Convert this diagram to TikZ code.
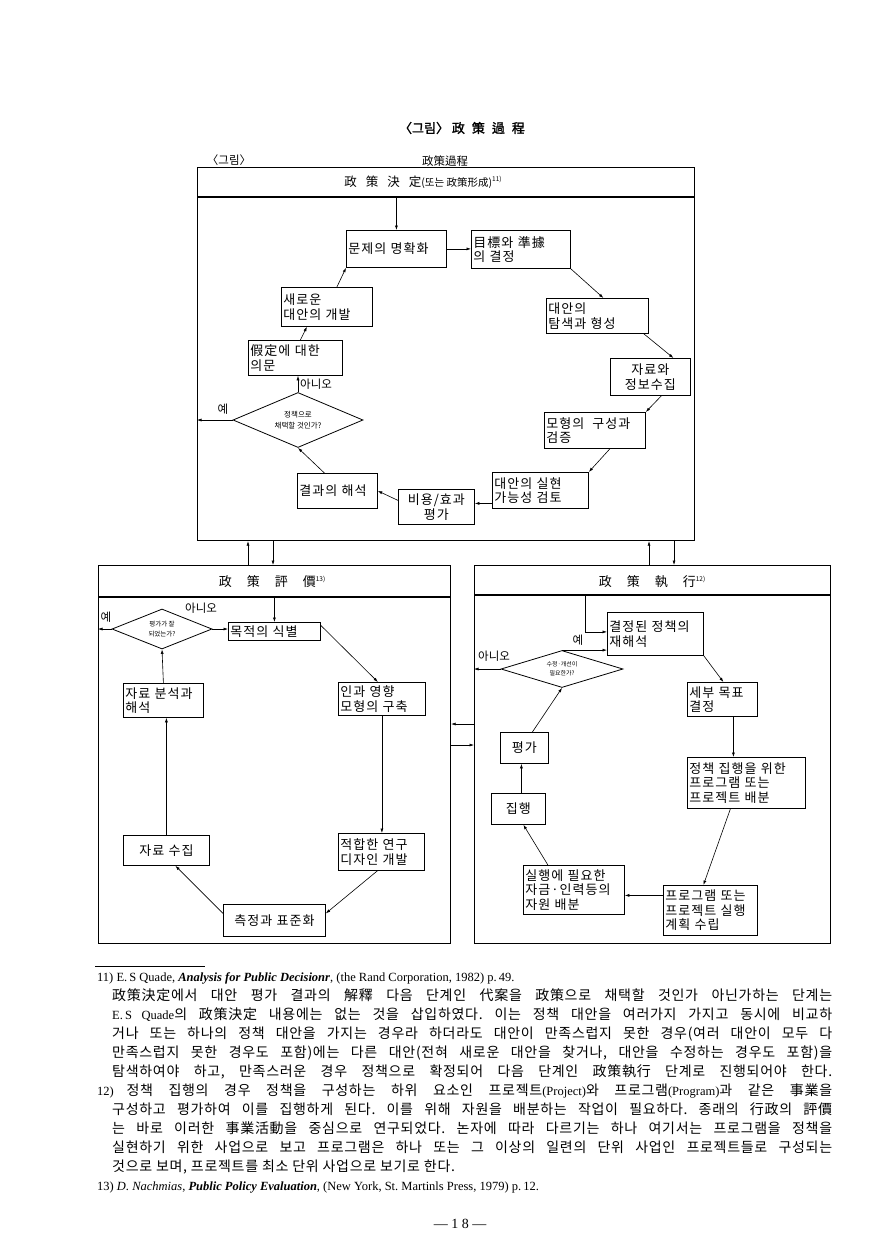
\documentclass[tikz,border=0pt]{standalone}
\usepackage{fontspec}
\setmainfont{Liberation Serif}
\newfontfamily\kr{Noto Sans CJK KR}
\newfontfamily\krs{Noto Sans CJK KR}[LetterSpace=8]
\newfontfamily\krn{Noto Sans CJK KR}[LetterSpace=5]
\newfontfamily\krb{Noto Sans CJK KR}[FakeBold=1.5]
\newcommand\krf{\krn\fontsize{14}{16}\selectfont}
\usetikzlibrary{arrows.meta,shapes.geometric}
\tikzset{
  bx/.style={draw, line width=0.8pt, anchor=north west, inner sep=2pt, align=left, font=\krs\fontsize{13}{14.5}\selectfont},
  frm/.style={draw, line width=1.1pt, anchor=north west, inner sep=0pt},
  divl/.style={line width=1.1pt},
  arr/.style={-{Latex[length=4.5pt,width=3pt]}, line width=0.6pt},
  dia/.style={diamond, draw, line width=0.8pt, inner sep=0pt, align=center, font=\kr\fontsize{7.5}{11}\selectfont},
  lab/.style={inner sep=0pt, font=\kr\fontsize{11.5}{13}\selectfont},
  hd/.style={inner sep=0pt, font=\kr\fontsize{13}{15}\selectfont},
  fn/.style={inner sep=0pt, anchor=base west, font=\fontsize{12.5}{15}\selectfont},
}
\newcommand\sups[1]{\raisebox{5pt}{\fontsize{6.5}{7}\selectfont #1}}
\begin{document}
\frenchspacing
\begin{tikzpicture}[x=1pt,y=-1pt]
\useasboundingbox[fill=white] (0,0) rectangle (869,1258);

% titles
\node[inner sep=0pt, font=\krb\fontsize{13}{15}\selectfont] (title) at (462,128) {〈그림〉 政\hspace{7pt}策\hspace{7pt}過\hspace{7pt}程};
\node[lab] (sub1) at (229,160) {〈그림〉};
\node[lab] (sub2) at (445,161) {政策過程};

% ---------------- frames
\node[frm, minimum width=497pt, minimum height=373pt] (T) at (197,167) {};
\coordinate (Td) at (197,197);
\draw[divl] (Td) -- (Td -| T.east);
\node[inner sep=0pt, font=\kr\fontsize{12.5}{14}\selectfont] (Th) at (423,182) {政\hspace{9pt}策\hspace{9pt}決\hspace{9pt}定{\fontsize{10.5}{12}\selectfont(또는 政策形成)}\sups{11)}};

\node[frm, minimum width=352pt, minimum height=378pt] (L) at (98,565) {};
\coordinate (Ld) at (98,597);
\draw[divl] (Ld) -- (Ld -| L.east);
\node[hd] (Lh) at (272,582) {政\hspace{15pt}策\hspace{15pt}評\hspace{15pt}價\sups{13)}};

\node[frm, minimum width=356pt, minimum height=378pt] (R) at (474,565) {};
\coordinate (Rd) at (474,595);
\draw[divl] (Rd) -- (Rd -| R.east);
\node[hd] (Rh) at (652,582) {政\hspace{15pt}策\hspace{15pt}執\hspace{15pt}行\sups{12)}};

% frame connectors
\draw[arr] ([xshift=150pt]L.north west) -- ([xshift=51pt]T.south west);
\draw[arr] ([xshift=76pt]T.south west) -- ([xshift=175pt]L.north west);
\draw[arr] ([xshift=175pt]R.north west) -- ([xshift=452pt]T.south west);
\draw[arr] ([xshift=477pt]T.south west) -- ([xshift=200pt]R.north west);
\draw[arr] ([yshift=-159pt]R.north west) -- ([yshift=-159pt]L.north east);
\draw[arr] ([yshift=-180pt]L.north east) -- ([yshift=-180pt]R.north west);

% ---------------- top: policy decision
\node[bx, text width=96pt, minimum height=37pt] (t1) at (346,230) {문제의 명확화};
\node[bx, text width=95pt, minimum height=38pt] (t2) at (471,230) {目標와 準據\\의 결정};
\node[bx, text width=98pt, minimum height=35pt] (t3) at (546,298) {대안의\\탐색과 형성};
\node[bx, text width=76pt, minimum height=37pt, align=center] (t4) at (610,358) {자료와\\정보수집};
\node[bx, text width=97pt, minimum height=36pt] (t5) at (544,412) {모형의\hspace{8pt}구성과\\검증};
\node[bx, text width=92pt, minimum height=36pt] (t6) at (492,472) {대안의 실현\\가능성 검토};
\node[bx, text width=72pt, minimum height=35pt, align=center] (t7) at (398,489) {비용/효과\\평가};
\node[bx, text width=76pt, minimum height=35pt] (t8) at (297,473) {결과의 해석};
\node[bx, text width=90pt, minimum height=35pt] (t9) at (248,340) {假定에 대한\\의문};
\node[bx, text width=87pt, minimum height=39pt] (t10) at (281,287) {새로운\\대안의 개발};
\node[dia, minimum width=130pt, minimum height=55pt, aspect=2.4] (td) at (298,420) {정책으로\\채택할 것인가?};

\draw[arr] (t1.north |- Td) -- (t1.north);
\draw[arr] (t1.east) -- (t2.west |- t1.east);
\draw[arr] (t2.south east) -- ([xshift=6pt]t3.north);
\draw[arr] ([xshift=-5pt]t3.south east) -- ([xshift=23pt]t4.north);
\draw[arr] ([xshift=11pt]t4.south) -- (t5.north east);
\draw[arr] ([xshift=15pt]t5.south) -- (t6.north east);
\coordinate (p7) at ([yshift=-13pt]t6.west);
\draw[arr] (p7) -- (p7 -| t7.east);
\draw[arr] ([yshift=6.5pt]t7.west) -- (t8.east);
\draw[arr] ([xshift=-13pt]t8.north) -- (td.south);
\draw[arr] (td.north) -- (td.north |- t9.south);
\draw[arr] ([xshift=5pt]t9.north) -- ([xshift=-20pt]t10.south);
\draw[arr] ([xshift=10pt]t10.north) -- (t1.south west);
\draw[arr] (td.west) -- (td.west -| T.west);
\node[lab, anchor=west] (tno) at (300,384) {아니오};
\node[lab] (tyes) at (223,409) {예};

% ---------------- left: policy evaluation
\node[bx, text width=88pt, minimum height=18pt] (l1) at (228,622) {목적의 식별};
\node[bx, text width=83pt, minimum height=33pt] (l2) at (338,682) {인과 영향\\모형의 구축};
\node[bx, text width=82pt, minimum height=37pt] (l3) at (338,833) {적합한 연구\\디자인 개발};
\node[bx, text width=98pt, minimum height=32pt, align=center] (l4) at (223,904) {측정과 표준화};
\node[bx, text width=82pt, minimum height=30pt, align=center] (l5) at (123,835) {자료 수집};
\node[bx, text width=76pt, minimum height=34pt] (l6) at (123,683) {자료 분석과\\해석};
\node[dia, minimum width=100pt, minimum height=40pt, aspect=2.5, font=\kr\fontsize{6.5}{10}\selectfont] (ld) at (162,629) {평가가 잘\\되었는가?};

\draw[arr] (l1.north |- Ld) -- (l1.north);
\draw[arr] (ld.east) -- (l1.west |- ld.east);
\draw[arr] (ld.west) -- (ld.west -| L.west);
\draw[arr] ([yshift=6pt]l1.east) -- ([xshift=-4pt]l2.north);
\draw[arr] (l2.south) -- (l2.south |- l3.north);
\draw[arr] ([xshift=-4pt]l3.south) -- ([yshift=7pt]l4.east);
\draw[arr] ([yshift=7pt]l4.west) -- ([xshift=9pt]l5.south);
\draw[arr] (l5.north) -- (l5.north |- l6.south);
\draw[arr] (l6.north) -- (ld.south);
\node[lab, anchor=west] (lno) at (185,608) {아니오};
\node[lab] (lyes) at (106,617) {예};

% ---------------- right: policy implementation
\node[bx, text width=92pt, minimum height=43pt] (r1) at (607,612) {결정된 정책의\\재해석};
\node[bx, text width=66pt, minimum height=34pt] (r2) at (687,682) {세부 목표\\결정};
\node[bx, text width=114pt, minimum height=51pt] (r3) at (687,757) {정책 집행을 위한\\프로그램 또는\\프로젝트 배분};
\node[bx, text width=90pt, minimum height=50pt] (r4) at (663,885) {프로그램 또는\\프로젝트 실행\\계획 수립};
\node[bx, text width=97pt, minimum height=49pt] (r5) at (523,865) {실행에 필요한\\자금·인력등의\\자원 배분};
\node[bx, text width=50pt, minimum height=31pt, align=center] (r6) at (491,793) {집행};
\node[bx, text width=44pt, minimum height=31pt, align=center] (r7) at (500,732) {평가};
\node[dia, minimum width=122pt, minimum height=37pt, aspect=3.2, font=\kr\fontsize{6}{9}\selectfont] (rd) at (562,669) {수정·개선이\\필요한가?};

\coordinate (rj) at ([xshift=-22pt]r1.west);
\draw[arr] (rj |- Rd) |- ([yshift=2pt]r1.west);
\draw[arr] (rd.north) -- (rd.north -| r1.west);
\draw[arr] (rd.west) -- (rd.west -| R.west);
\draw[arr] (r1.south east) -- ([xshift=1pt]r2.north);
\draw[arr] ([xshift=11pt]r2.south) -- ([xshift=-13pt]r3.north);
\draw[arr] ([xshift=-16pt]r3.south) -- ([xshift=-7pt]r4.north);
\coordinate (p1) at ([yshift=15pt]r4.west);
\draw[arr] (p1) -- (p1 -| r5.east);
\draw[arr] ([xshift=-26pt]r5.north) -- ([xshift=5pt]r6.south);
\draw[arr] ([xshift=3pt]r6.north) -- ([xshift=-3pt]r7.south);
\draw[arr] ([xshift=8pt]r7.north) -- (rd.south);
\node[lab] (ryes) at (578,640) {예};
\node[lab, anchor=west] (rno) at (478,656) {아니오};

% ---------------- footnotes
\draw[line width=0.8pt] (95,966) -- (205,966);
\node[fn] (f1) at (97,981) {11) E.\,S Quade, \textbf{\textit{Analysis for Public Decisionr}}, (the Rand Corporation, 1982) p.\,49.};
\node[fn] (f2) at (112,1000) {\makebox[720pt][s]{\krf 政策決定에서 대안 평가 결과의 解釋 다음 단계인 代案을 政策으로 채택할 것인가 아닌가하는 단계는}};
\node[fn] (f3) at (112,1019) {\makebox[720pt][s]{E.\,S Quade{\krf 의 政策決定 내용에는 없는 것을 삽입하였다. 이는 정책 대안을 여러가지 가지고 동시에 비교하}}};
\node[fn] (f4) at (112,1038) {\makebox[720pt][s]{\krf 거나 또는 하나의 정책 대안을 가지는 경우라 하더라도 대안이 만족스럽지 못한 경우(여러 대안이 모두 다}};
\node[fn] (f5) at (112,1057) {\makebox[720pt][s]{\krf 만족스럽지 못한 경우도 포함)에는 다른 대안(전혀 새로운 대안을 찾거나, 대안을 수정하는 경우도 포함)을}};
\node[fn] (f6) at (112,1076) {\makebox[720pt][s]{\krf 탐색하여야 하고, 만족스러운 경우 정책으로 확정되어 다음 단계인 政策執行 단계로 진행되어야 한다.}};
\node[fn] (f7) at (97,1095) {\makebox[735pt][s]{12) {\krf 정책 집행의 경우 정책을 구성하는 하위 요소인 프로젝트}(Project){\krf 와 프로그램}(Program){\krf 과 같은 事業을}}};
\node[fn] (f8) at (112,1114) {\makebox[720pt][s]{\krf 구성하고 평가하여 이를 집행하게 된다. 이를 위해 자원을 배분하는 작업이 필요하다. 종래의 行政의 評價}};
\node[fn] (f9) at (112,1133) {\makebox[720pt][s]{\krf 는 바로 이러한 事業活動을 중심으로 연구되었다. 논자에 따라 다르기는 하나 여기서는 프로그램을 정책을}};
\node[fn] (f10) at (112,1152) {\makebox[720pt][s]{\krf 실현하기 위한 사업으로 보고 프로그램은 하나 또는 그 이상의 일련의 단위 사업인 프로젝트들로 구성되는}};
\node[fn] (f11) at (112,1171) {\krf 것으로 보며, 프로젝트를 최소 단위 사업으로 보기로 한다.};
\node[fn] (f12) at (97,1190) {13) \textit{D. Nachmias}, \textbf{\textit{Public Policy Evaluation}}, (New York, St. Martinls Press, 1979) p.\,12.};
\node[inner sep=0pt, anchor=base, font=\fontsize{14}{16}\selectfont] (pg) at (460,1228) {\textemdash\ 1 8 \textemdash};
\end{tikzpicture}
\end{document}
